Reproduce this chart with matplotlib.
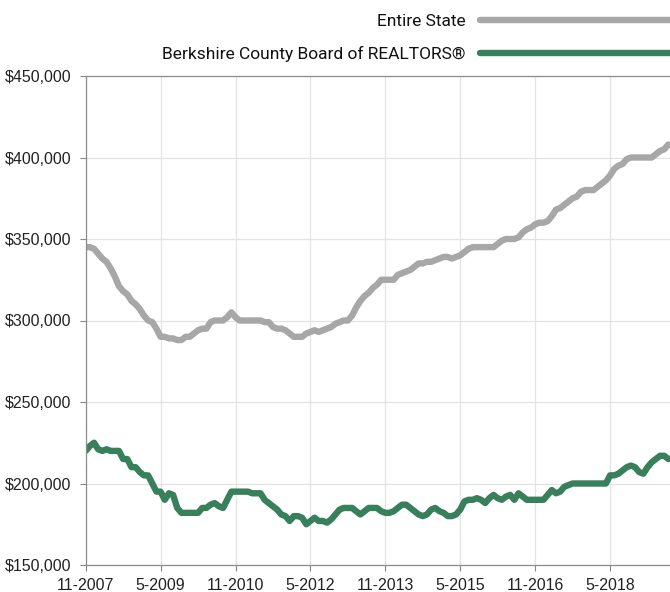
import numpy as np
import matplotlib
matplotlib.use("Agg")
from matplotlib import pyplot as plt

plt.rcParams['font.family'] = ['Liberation Sans', 'DejaVu Sans']

# monthly values in $1000s, starting 11-2007
state = [345, 345, 344, 341, 338, 336, 332, 327, 321, 318,
         316, 312, 310, 307, 303, 300, 299, 295, 290, 290,
         289, 289, 288, 288, 290, 290, 292, 294, 295, 295,
         299, 300, 300, 300, 302, 305, 302, 300, 300, 300,
         300, 300, 300, 299, 299, 296, 295, 295, 294, 292,
         290, 290, 290, 292, 293, 294, 293, 294, 295, 296,
         298, 299, 300, 300, 303, 308, 312, 315, 317, 320,
         322, 325, 325, 325, 325, 328, 329, 330, 331, 333,
         335, 335, 336, 336, 337, 338, 339, 339, 338, 339,
         340, 342, 344, 345, 345, 345, 345, 345, 345, 347,
         349, 350, 350, 350, 351, 354, 356, 357, 359, 360,
         360, 361, 364, 368, 369, 371, 373, 375, 376, 379,
         380, 380, 380, 382, 384, 386, 389, 393, 395, 396,
         399, 400, 400, 400, 400, 400, 400, 402, 404, 405,
         408]

county = [220, 223, 225, 221, 220, 221, 220, 220, 220, 215,
          215, 210, 210, 207, 205, 205, 200, 195, 195, 190,
          194, 193, 185, 182, 182, 182, 182, 182, 185, 185,
          187, 188, 186, 185, 190, 195, 195, 195, 195, 195,
          194, 194, 194, 190, 188, 186, 184, 181, 180, 177,
          180, 180, 179, 175, 177, 179, 177, 177, 176, 178,
          181, 184, 185, 185, 185, 183, 181, 183, 185, 185,
          185, 183, 182, 182, 183, 185, 187, 187, 185, 183,
          181, 180, 181, 184, 185, 183, 182, 180, 180, 181,
          184, 189, 190, 190, 191, 190, 188, 191, 193, 191,
          190, 192, 193, 190, 194, 192, 190, 190, 190, 190,
          190, 193, 196, 194, 195, 198, 199, 200, 200, 200,
          200, 200, 200, 200, 200, 200, 205, 205, 206, 208,
          210, 211, 210, 207, 206, 210, 213, 215, 217, 217,
          215]

tick_labels = ['11-2007', '5-2009', '11-2010', '5-2012',
               '11-2013', '5-2015', '11-2016', '5-2018']
y_ticks = [150, 200, 250, 300, 350, 400, 450]

fig = plt.figure(figsize=(6.7, 5.92), dpi=100)
ax = fig.add_axes([85.7 / 670, 27 / 592, 1 - 85.7 / 670, 489 / 592])

x = np.arange(len(state))
ax.plot(x, np.array(state) * 1000, color='#a7a7a7', lw=4.6,
        solid_capstyle='round', solid_joinstyle='round', label='Entire State')
ax.plot(x, np.array(county) * 1000, color='#387f5b', lw=4.6,
        solid_capstyle='round', solid_joinstyle='round',
        label='Berkshire County Board of REALTORS®')

ax.set_xlim(0, 140.4)
ax.set_ylim(150000, 450000)
ax.set_xticks(np.arange(len(tick_labels)) * 18)
ax.set_xticklabels(tick_labels)
ax.set_yticks([v * 1000 for v in y_ticks])
ax.set_yticklabels(['${:,}'.format(v * 1000) for v in y_ticks])
ax.tick_params(labelsize=11.5, colors='#222222', length=4, width=0.8)
ax.tick_params(axis='both', color='#888888')
ax.tick_params(axis='y', pad=6.5)
ax.tick_params(axis='x', pad=5)
ax.grid(True, color='#e3e3e3', lw=0.9)
ax.set_axisbelow(True)
for s in ['left', 'bottom', 'top']:
    ax.spines[s].set_color('#8c8c8c')
    ax.spines[s].set_linewidth(0.9)
ax.spines['right'].set_visible(False)

leg = ax.legend(loc='upper right', bbox_to_anchor=(699 / 670, 1 - 10 / 592),
                bbox_transform=fig.transFigure, frameon=False,
                markerfirst=False, handlelength=12.4,
                handletextpad=0.86, labelspacing=0.98, borderpad=0.2,
                borderaxespad=0,
                prop={'family': ['Roboto', 'Liberation Sans'], 'size': 12.5})
for t in leg.get_texts():
    t.set_color('#111111')

fig.savefig('out.png', dpi=100)
